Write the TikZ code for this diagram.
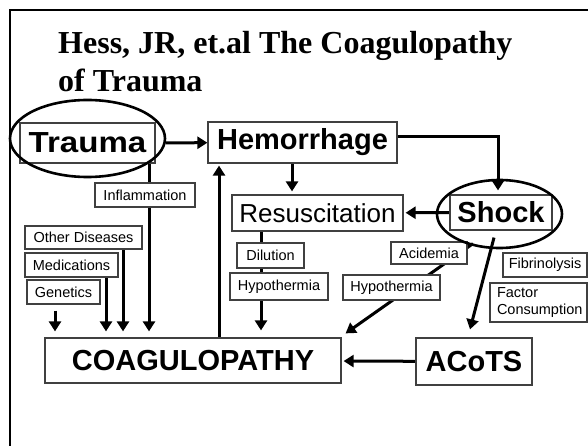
\documentclass[tikz,border=0pt]{standalone}
\usepackage{fontspec}
\setmainfont{Liberation Serif}
\setsansfont{Liberation Sans}
\newfontfamily\widesans[FakeStretch=1.14]{Liberation Sans}
\usetikzlibrary{arrows.meta,backgrounds}

\begin{document}
\begin{tikzpicture}[x=1pt,y=-1pt,
        box/.style={draw=black!75,line width=1.2pt,fill=white,inner sep=0pt,font=\sffamily\fontsize{14.5}{16.5}\selectfont},
        bigbox/.style={box,font=\sffamily\bfseries\fontsize{29}{32}\selectfont},
        arr/.style={line width=3pt,-{Triangle[length=10pt,width=12pt]}},
        ring/.style={line width=2.6pt}
    ]
    \useasboundingbox (0,0) rectangle (588,446);
    \draw[line width=2.5pt] (10,446) -- (10,10) -- (588,10);
    \node[anchor=north west,align=left,inner sep=0pt,font=\bfseries\fontsize{32}{38}\selectfont] (title) at (58,31) {Hess, JR, et.al The Coagulopathy\\of Trauma};
    \node[bigbox,font=\widesans\bfseries\fontsize{29}{32}\selectfont,minimum width=135pt,minimum height=40pt] (trauma) at (87.5,143) {Trauma};
    \node[bigbox,minimum width=189pt,minimum height=41pt] (hemorrhage) at (302.5,142.5) {Hemorrhage};
    \node[bigbox,minimum width=102pt,minimum height=35pt] (shock) at (501,212.5) {Shock};
    \node[box,font=\sffamily\fontsize{26}{30}\selectfont,minimum width=171pt,minimum height=36pt] (resuscitation) at (317.5,213) {Resuscitation};
    \node[box,minimum width=100pt,minimum height=24pt] (inflammation) at (145,195) {Inflammation};
    \node[box,minimum width=117pt,minimum height=23pt] (otherdis) at (83.5,237.5) {Other Diseases};
    \node[box,minimum width=93pt,minimum height=24pt] (medications) at (71.5,265) {Medications};
    \node[box,minimum width=73pt,minimum height=24pt] (genetics) at (63.5,292) {Genetics};
    \node[box,minimum width=67pt,minimum height=25pt] (dilution) at (270.5,255.5) {Dilution};
    \node[box,minimum width=98pt,minimum height=27pt] (hypoleft) at (279,286.5) {Hypothermia};
    \node[box,minimum width=97pt,minimum height=25pt] (hyporight) at (391.5,287.5) {Hypothermia};
    \node[box,minimum width=76pt,minimum height=22pt] (acidemia) at (429,253) {Acidemia};
    \node[box,minimum width=84pt,minimum height=24pt] (fibrinolysis) at (545,265) {Fibrinolysis};
    \node[box,text width=83pt,inner xsep=7pt,align=left,minimum height=39pt] (factor) at (538.5,302.5) {Factor\\Consumption};
    \node[bigbox,minimum width=296pt,minimum height=45pt] (coag) at (193,360.5) {COAGULOPATHY};
    \node[bigbox,minimum width=116pt,minimum height=47pt] (acots) at (474,361.5) {ACoTS};
    % rings round the two key boxes
    \draw[ring] (87.5,138.5) ellipse [x radius=77.5pt,y radius=38.5pt];
    \draw[ring] (499.5,214) ellipse [x radius=62.5pt,y radius=34pt];
    \begin{scope}[on background layer]
        \coordinate (trdown) at ([xshift=61.5pt]trauma.south);
        \coordinate (oddown) at ([xshift=39.5pt]otherdis.south);
        \coordinate (mddown) at ([xshift=34.5pt]medications.south);
        \coordinate (gndown) at ([xshift=-8.5pt]genetics.south);
        \coordinate (cgup) at ([xshift=26pt]coag.north);
        \coordinate (hmdown) at ([xshift=-10.5pt]hemorrhage.south);
        \coordinate (rsdown) at ([xshift=-56.5pt]resuscitation.south);
        \coordinate (shtail) at ([xshift=-28pt,yshift=-13pt]shock.south);
        \draw[arr,shorten <=10pt] (trauma) -- (hemorrhage);
        \draw[arr,shorten >=4pt] ([yshift=5.5pt]hemorrhage.east) -| ([xshift=-3pt]shock.north);
        \draw[arr,shorten >=2pt] (shock) -- (resuscitation);
        \draw[arr,shorten >=3pt] (hmdown) -- (hmdown |- resuscitation.north);
        \draw[arr,shorten >=6pt] (trdown) -- (trdown |- coag.north);
        \draw[arr,shorten >=6pt] (oddown) -- (oddown |- coag.north);
        \draw[arr,shorten >=6pt] (mddown) -- (mddown |- coag.north);
        \draw[arr,shorten <=6pt,shorten >=6pt] (gndown) -- (gndown |- coag.north);
        \draw[arr,shorten >=2pt] (cgup) -- (cgup |- hemorrhage.south);
        \draw[arr,shorten >=7pt] (rsdown) -- (rsdown |- coag.north);
        \draw[arr] (shtail) -- ([xshift=4pt,yshift=4pt]coag.north east);
        \draw[arr] ([xshift=-7pt,yshift=-7pt]shock.south) -- ([xshift=-4pt,yshift=8pt]acots.north);
        \draw[arr,shorten >=2pt] (acots) -- (coag);
    \end{scope}
\end{tikzpicture}
\end{document}
